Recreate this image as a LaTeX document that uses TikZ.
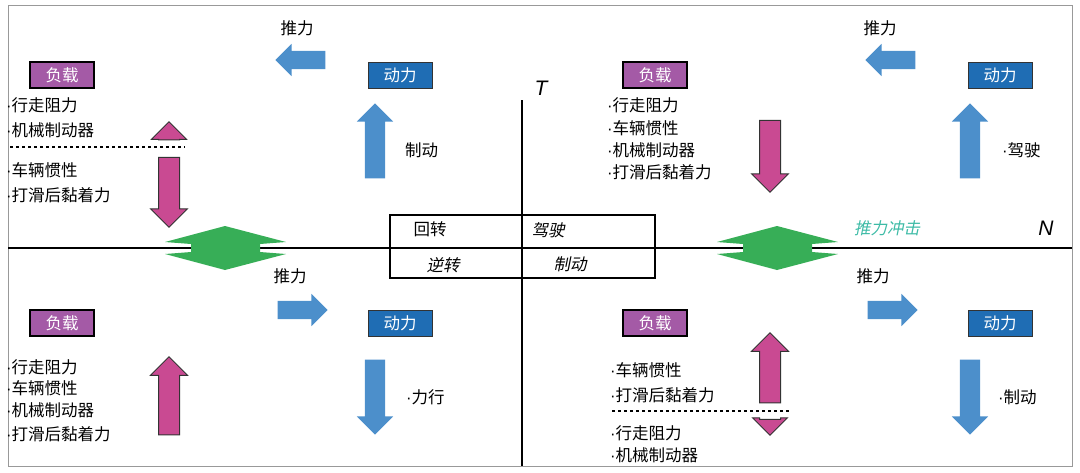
\documentclass[tikz,border=0pt]{standalone}
\usepackage{fontspec}
\setmainfont{Noto Sans CJK SC}
\newfontfamily\latin{Liberation Sans}
\newfontfamily\cjkit{Noto Sans CJK SC}[FakeSlant=0.2]
\newcommand{\bul}{{\latin\textperiodcentered}}
\usetikzlibrary{shapes.arrows}
\definecolor{pbox}{HTML}{A45AA6}
\definecolor{bbox}{HTML}{1F6DB4}
\definecolor{barr}{HTML}{4C8FCB}
\definecolor{parr}{HTML}{C94A92}
\definecolor{garr}{HTML}{37AE57}
\definecolor{teal}{HTML}{3DBBA6}
\begin{document}
\begin{tikzpicture}[x=1pt,y=-1pt,
  every node/.style={font=\fontsize{16.5}{19}\selectfont,inner sep=0pt},
  lbl/.style={anchor=west},
  pb/.style={fill=pbox,draw=black,line width=1.2pt,text=white,minimum width=64pt,minimum height=26pt},
  bb/.style={fill=bbox,draw=black!80,line width=1pt,text=white,minimum width=64pt,minimum height=26pt},
  arr/.style={single arrow,single arrow head extend=8pt,minimum width=36pt,inner xsep=0pt,inner ysep=10pt,text width=0pt,font=\fontsize{1}{1}\selectfont},
  varr/.style={arr,inner xsep=10pt,inner ysep=0pt},
  ba/.style={arr,fill=barr},
  vba/.style={varr,fill=barr},
  pa/.style={varr,fill=parr,draw=black!80,line width=1pt},
  it/.style={font=\fontsize{16.5}{19}\selectfont\cjkit}]
\useasboundingbox (0,0) rectangle (1080,472);
\draw[black!40,line width=1pt] (8,5) rectangle (1072,466);
% axes
\coordinate (hl) at (8,248); \coordinate (hr) at (1072,248);
\coordinate (vt) at (522,100); \coordinate (vb) at (522,466);
\draw[line width=2.5pt] (hl) -- (hr);
\draw[line width=2.5pt] (vt) -- (vb);
\node[font=\latin\itshape\fontsize{21}{22}\selectfont] (T) at (541,88) {T};
\node[font=\latin\itshape\fontsize{21}{22}\selectfont] (N) at (1046,228) {N};
% table
\draw[line width=1.5pt] (390,215) rectangle (655,278);
\node (t1) at (430,229) {回转};
\node[it] (t2) at (548,230) {驾驶};
\node[it] (t3) at (443,265) {逆转};
\node[it] (t4) at (570,264) {制动};
% green
\foreach \dx in {0,-552}{
\fill[garr,shift={(\dx,0)}] (717,242) -- (777,226) -- (838,242) -- (812,244) -- (812,252) -- (838,254) -- (777,270) -- (717,254) -- (743,252) -- (743,244) -- cycle;}
\node[it,text=teal] (tc) at (887,228) {推力冲击};
% boxes
\node[pb] (p1) at (62,75) {负载};
\node[bb] (b1) at (400,75) {动力};
\node[pb] (p2) at (655,75) {负载};
\node[bb] (b2) at (1000,75) {动力};
\node[pb] (p3) at (62,323) {负载};
\node[bb] (b3) at (400,323) {动力};
\node[pb] (p4) at (655,323) {负载};
\node[bb] (b4) at (1000,323) {动力};
% push arrows
\tikzset{ha/.style={ba,minimum height=50pt,minimum width=32pt,inner ysep=9pt,single arrow head extend=7pt}}
\node (tl1) at (297,28) {推力};
\node[ha,shape border rotate=180] (a1) at (305,60) {};
\node (tl2) at (880,28) {推力};
\node[ha,shape border rotate=180] (a2) at (895,60) {};
\node (tl3) at (290,276) {推力};
\node[ha] (a3) at (298,310) {};
\node (tl4) at (873,276) {推力};
\node[ha] (a4) at (888,310) {};
% blue vertical
\node[vba,minimum height=75pt,shape border rotate=90] (v1) at (375,146) {};
\node[lbl] (l1) at (405,150) {制动};
\node[vba,minimum height=75pt,shape border rotate=90] (v2) at (970,146) {};
\node[lbl] (l2) at (1002,150) {\bul 驾驶};
\node[vba,minimum height=75pt,shape border rotate=270] (v3) at (375,392) {};
\node[lbl] (l3) at (406,397) {\bul 力行};
\node[vba,minimum height=75pt,shape border rotate=270] (v4) at (970,392) {};
\node[lbl] (l4) at (998,397) {\bul 制动};
% pink
\node[pa,minimum height=18pt,minimum width=34pt,single arrow head extend=7pt,shape border rotate=90] (q1) at (169,136) {};
\coordinate (d1a) at (10,147); \coordinate (d1b) at (185,147);
\draw[dashed,line width=1.5pt] (d1a) -- (d1b);
\node[pa,minimum height=70pt,shape border rotate=270] (q2) at (169,187) {};
\node[pa,minimum height=72pt,shape border rotate=270] (q3) at (770,151) {};
\node[pa,minimum height=78pt,shape border rotate=90] (q4) at (169,401) {};
\node[pa,minimum height=70pt,shape border rotate=90] (q5) at (770,373) {};
\coordinate (d2a) at (612,411); \coordinate (d2b) at (790,411);
\draw[dashed,line width=1.5pt] (d2a) -- (d2b);
\node[pa,minimum height=16pt,minimum width=34pt,single arrow head extend=7pt,shape border rotate=270] (q6) at (770,422) {};
% lists
\node[lbl] (s1) at (6,105) {\bul 行走阻力};
\node[lbl] (s2) at (6,130) {\bul 机械制动器};
\node[lbl] (s3) at (6,170) {\bul 车辆惯性};
\node[lbl] (s4) at (6,195) {\bul 打滑后黏着力};
\node[lbl] (r1) at (607,105) {\bul 行走阻力};
\node[lbl] (r2) at (607,128) {\bul 车辆惯性};
\node[lbl] (r3) at (607,150) {\bul 机械制动器};
\node[lbl] (r4) at (607,172) {\bul 打滑后黏着力};
\node[lbl] (u1) at (6,367) {\bul 行走阻力};
\node[lbl] (u2) at (6,388) {\bul 车辆惯性};
\node[lbl] (u3) at (6,410) {\bul 机械制动器};
\node[lbl] (u4) at (6,434) {\bul 打滑后黏着力};
\node[lbl] (w1) at (610,370) {\bul 车辆惯性};
\node[lbl] (w2) at (610,395) {\bul 打滑后黏着力};
\node[lbl] (w3) at (610,433) {\bul 行走阻力};
\node[lbl] (w4) at (610,455) {\bul 机械制动器};
\end{tikzpicture}
\end{document}
